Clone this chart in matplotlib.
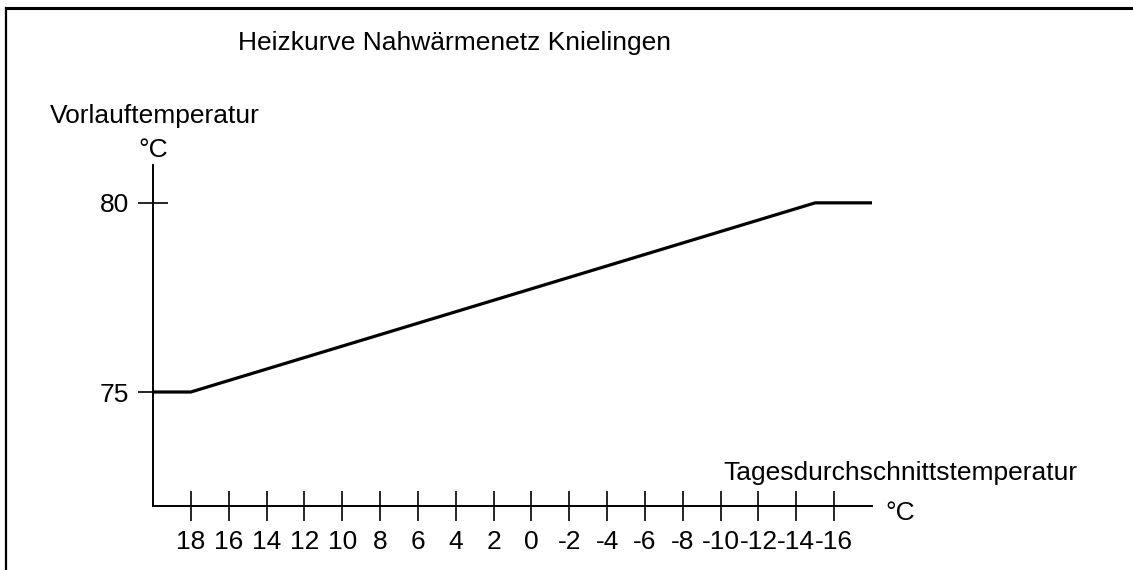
import matplotlib.pyplot as plt
from matplotlib.lines import Line2D

# Heizkurve: Tagesdurchschnittstemperatur -> Vorlauftemperatur
aussen_temp = [20, 18, -15, -18]
vorlauf_temp = [75, 75, 80, 80]

x_ticks = [18, 16, 14, 12, 10, 8, 6, 4, 2, 0, -2, -4, -6, -8, -10, -12, -14, -16]
x_labels = [str(t) for t in x_ticks]
y_ticks = [75, 80]

plt.rcParams['font.family'] = ['Liberation Sans', 'DejaVu Sans']
W, H = 1133, 570

fig = plt.figure(figsize=(W / 100, H / 100), dpi=100)
ax = fig.add_axes([153 / W, (H - 505.5) / H, (872 - 153) / W, (505.5 - 165) / H])

ax.plot(aussen_temp, vorlauf_temp, color='black', linewidth=2.3, solid_capstyle='butt')

ax.set_xlim(20, -18)
ax.set_ylim(72, 81)

ax.set_xticks(x_ticks)
ax.set_xticklabels(x_labels)
ax.set_yticks(y_ticks)
ax.tick_params(direction='inout', length=21.6, width=1.2, pad=6.5, labelsize=19, colors='black')

for s in ['top', 'right']:
    ax.spines[s].set_visible(False)
for s in ['left', 'bottom']:
    ax.spines[s].set_linewidth(1.4)

# Beschriftungen
fig.text(238 / W, (H - 50) / H, "Heizkurve Nahwärmenetz Knielingen", fontsize=19, va='baseline')
fig.text(50 / W, (H - 123) / H, "Vorlauftemperatur", fontsize=19, va='baseline')
fig.text(138 / W, (H - 157) / H, "°C", fontsize=19, va='baseline')
fig.text(723 / W, (H - 480) / H, "Tagesdurchschnittstemperatur", fontsize=19, va='baseline')
fig.text(885 / W, (H - 520) / H, "°C", fontsize=19, va='baseline')

# Rahmen (nur oben und links sichtbar)
fig.add_artist(Line2D([6 / W, 1.0], [(H - 8) / H, (H - 8) / H], color='black', linewidth=2.2, transform=fig.transFigure))
fig.add_artist(Line2D([6 / W, 6 / W], [0, (H - 8) / H], color='black', linewidth=1.6, transform=fig.transFigure))

plt.savefig("out.png", dpi=100)
